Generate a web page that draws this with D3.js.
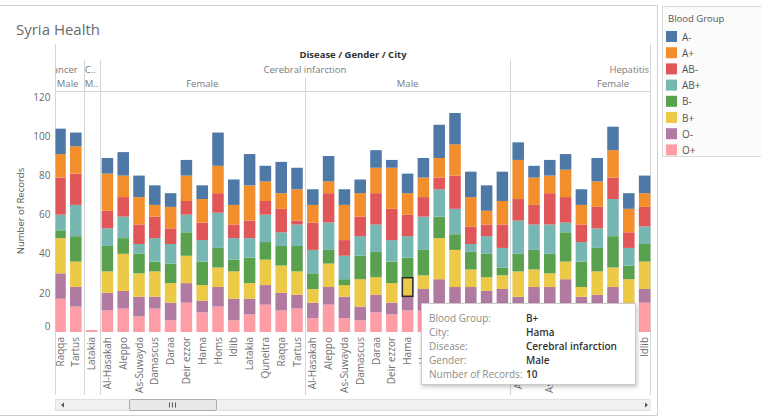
<!DOCTYPE html>
<html><head><meta charset="utf-8">
<script src="https://cdn.jsdelivr.net/npm/d3@7"></script>
<style>
body{margin:0;background:#fff;}
svg{display:block;font-family:"Open Sans","Noto Sans",sans-serif;}
</style></head><body>
<svg id="chart" width="761" height="417"></svg>
<script>
// ---------- data ----------
const bloodGroups = ["A-","A+","AB-","AB+","B-","B+","O-","O+"];
const groupColors = ["#4e79a7","#f28e2b","#e15759","#76b7b2","#59a14f","#edc948","#b07aa1","#ff9da7"];

const barDisease = ["Cancer","Cancer","C..",
  "Cerebral infarction","Cerebral infarction","Cerebral infarction","Cerebral infarction","Cerebral infarction","Cerebral infarction","Cerebral infarction","Cerebral infarction","Cerebral infarction","Cerebral infarction","Cerebral infarction","Cerebral infarction","Cerebral infarction",
  "Cerebral infarction","Cerebral infarction","Cerebral infarction","Cerebral infarction","Cerebral infarction","Cerebral infarction","Cerebral infarction","Cerebral infarction","Cerebral infarction","Cerebral infarction","Cerebral infarction","Cerebral infarction","Cerebral infarction",
  "Hepatitis","Hepatitis","Hepatitis","Hepatitis","Hepatitis","Hepatitis","Hepatitis","Hepatitis","Hepatitis"];
const barGender = ["Male","Male","M..",
  "Female","Female","Female","Female","Female","Female","Female","Female","Female","Female","Female","Female","Female",
  "Male","Male","Male","Male","Male","Male","Male","Male","Male","Male","Male","Male","Male",
  "Female","Female","Female","Female","Female","Female","Female","Female","Female"];
const barCity = ["Raqqa","Tartus","Latakia",
  "Al-Hasakah","Aleppo","As-Suwayda","Damascus","Daraa","Deir ezzor","Hama","Homs","Idlib","Latakia","Quneitra","Raqqa","Tartus",
  "Al-Hasakah","Aleppo","As-Suwayda","Damascus","Daraa","Deir ezzor","Hama","Homs","Idlib","Latakia","Quneitra","Raqqa","Tartus",
  "Al-Hasakah","Aleppo","As-Suwayda","Damascus","Daraa","Deir ezzor","Hama","Homs","Idlib"];

const valAminus  = [13,7,0, 8,12,11,10,7,8,7,17,13,16,8,16,11, 8,13,8,7,9,4,10,10,17,16,13,13,15, 9,6,8,8,8,12,12,8,9];
const valAplus   = [12,14,0, 19,11,14,6,11,13,12,14,10,18,10,8,16, 9,6,18,12,13,21,11,10,10,16,15,7,12, 20,14,9,14,10,13,14,12,7];
const valABminus = [19,16,0, 9,10,10,11,8,7,9,10,7,9,7,12,2, 14,15,8,10,16,16,11,10,6,17,9,6,12, 11,10,16,13,9,11,11,8,10];
const valABplus  = [8,16,0, 9,11,5,12,10,9,11,18,11,10,14,7,11, 12,14,12,10,14,11,11,17,14,13,4,9,10, 17,13,15,5,10,10,19,9,9];
const valBminus  = [4,13,0, 13,8,10,5,10,12,12,10,6,13,9,10,13, 8,7,3,12,13,11,10,13,11,8,9,12,4, 9,10,10,15,13,12,16,7,9];
const valBplus   = [18,13,0, 11,19,12,13,10,14,8,10,14,8,13,14,12, 7,12,6,14,9,10,10,7,21,19,9,7,7, 13,9,7,9,5,12,10,13,14];
const valOminus  = [13,10,0, 9,9,10,6,9,10,6,10,11,8,10,9,7, 8,9,11,7,9,6,7,11,15,10,11,10,10, 6,11,11,14,7,7,11,5,7];
const valOplus   = [17,13,1, 11,12,8,12,6,15,10,13,6,9,14,11,12, 7,14,7,6,10,9,11,11,12,13,12,11,12, 12,12,12,13,11,12,12,9,15];

const yTicks = [0,20,40,60,80,100,120];
const tooltipLabels = ["Blood Group:","City:","Disease:","Gender:","Number of Records:"];
const highlightBar = 22, highlightGroup = "B+";

// ---------- build table ----------
const seriesByGroup = {"A-":valAminus,"A+":valAplus,"AB-":valABminus,"AB+":valABplus,"B-":valBminus,"B+":valBplus,"O-":valOminus,"O+":valOplus};
const rows = barCity.map((c,i)=>{const r={idx:i}; bloodGroups.forEach(g=>r[g]=seriesByGroup[g][i]); return r;});
const stackKeys = bloodGroups.slice().reverse(); // O+ at bottom
const stacked = d3.stack().keys(stackKeys)(rows);
const color = d3.scaleOrdinal().domain(bloodGroups).range(groupColors);

const svg = d3.select("#chart");
const plotL = 55.5, plotR = 651, plotT = 91.5, base = 332;
const step = 15.8, x0 = 52.1;
const x = d3.scaleBand().domain(d3.range(barCity.length)).range([x0, x0+step*barCity.length]).paddingInner(0.27).paddingOuter(0.135);
const y = d3.scaleLinear().domain([0,123]).range([base, 91.5]);

const defs = svg.append("defs");
defs.append("clipPath").attr("id","plotclip").append("rect").attr("x",plotL).attr("y",40).attr("width",plotR-plotL).attr("height",360);
const sh = defs.append("filter").attr("id","shadow").attr("x","-10%").attr("y","-10%").attr("width","130%").attr("height","140%");
sh.append("feDropShadow").attr("dx",1).attr("dy",2).attr("stdDeviation",2).attr("flood-color","#000").attr("flood-opacity",0.22);

// frame
const frame = "#cfcfcf";
svg.append("line").attr("x1",0).attr("x2",657.5).attr("y1",5.5).attr("y2",5.5).attr("stroke",frame);
svg.append("line").attr("x1",657.5).attr("x2",657.5).attr("y1",5.5).attr("y2",415.5).attr("stroke",frame);
svg.append("line").attr("x1",0).attr("x2",657.5).attr("y1",415.5).attr("y2",415.5).attr("stroke",frame);

// title
svg.append("text").attr("x",16).attr("y",35).attr("font-size",15).attr("fill","#6a6a6a").text("Syria Health");

// header title
svg.append("text").attr("x",353).attr("y",58).attr("text-anchor","middle").attr("font-size",9.5).attr("font-weight",700).attr("fill","#333").text("Disease / Gender / City");

// pane structure
const lineC = "#d6d6d6";
svg.append("line").attr("x1",plotL).attr("x2",plotL).attr("y1",44).attr("y2",395).attr("stroke",lineC);
svg.append("line").attr("x1",650.5).attr("x2",650.5).attr("y1",44).attr("y2",395).attr("stroke",lineC);
svg.append("line").attr("x1",plotL).attr("x2",plotR).attr("y1",91.5).attr("y2",91.5).attr("stroke",lineC);

function runs(keyFn){
  const out=[]; let s=0;
  for(let i=1;i<=barCity.length;i++){
    if(i===barCity.length || keyFn(i)!==keyFn(s)){ out.push({start:s,end:i-1,key:keyFn(s)}); s=i; }
  }
  return out;
}
const edge = i => x0 + step*i;
const diseaseRuns = runs(i=>barDisease[i]);
const genderRuns = runs(i=>barDisease[i]+"|"+barGender[i]);
const hdr = svg.append("g").attr("clip-path","url(#plotclip)").attr("font-size",9.5).attr("fill","#7a7a7a");
diseaseRuns.forEach(r=>{ if(r.start>0) hdr.append("line").attr("x1",Math.round(edge(r.start))+0.5).attr("x2",Math.round(edge(r.start))+0.5).attr("y1",60).attr("y2",395).attr("stroke",lineC); });
genderRuns.forEach(r=>{ const e=Math.round(edge(r.start))+0.5; if(r.start>0 && barDisease[r.start]===barDisease[r.start-1]) hdr.append("line").attr("x1",e).attr("x2",e).attr("y1",78).attr("y2",395).attr("stroke",lineC); });

diseaseRuns.forEach(r=>{
  const l=edge(r.start), rr=edge(r.end+1);
  const t=hdr.append("text").attr("y",73).text(r.key);
  if(r.key==="Cancer") t.attr("x",rr-6).attr("text-anchor","end");
  else if(r.key==="Hepatitis") t.attr("x",plotR-2).attr("text-anchor","end");
  else if(r.key==="C..") t.attr("x",l+1);
  else t.attr("x",(l+rr)/2).attr("text-anchor","middle");
});
genderRuns.forEach(r=>{
  const l=edge(r.start), rr=edge(r.end+1);
  const t=hdr.append("text").attr("y",87).text(barGender[r.start]);
  if(barDisease[r.start]==="Cancer") t.attr("x",(plotL+rr)/2-2).attr("text-anchor","middle");
  else if(barGender[r.start]==="M..") t.attr("x",l+1);
  else if(barDisease[r.start]==="Hepatitis") t.attr("x",l+step*13/2).attr("text-anchor","middle");
  else t.attr("x",(l+rr)/2).attr("text-anchor","middle");
});

// bars
const bars = svg.append("g").attr("clip-path","url(#plotclip)");
bars.selectAll("g").data(stacked).join("g").attr("fill",d=>color(d.key))
  .selectAll("rect").data(d=>d).join("rect")
  .attr("x",d=>x(d.data.idx)).attr("width",x.bandwidth())
  .attr("y",d=>y(d[1])).attr("height",d=>y(d[0])-y(d[1]));

// highlight
const hs = stacked.find(s=>s.key===highlightGroup)[highlightBar];
bars.append("rect").attr("x",x(highlightBar)+0.5).attr("width",x.bandwidth()-1)
  .attr("y",y(hs[1])+0.5).attr("height",y(hs[0])-y(hs[1])-1)
  .attr("fill","none").attr("stroke","#2b2b2b").attr("stroke-width",1.5);

// y axis
const yAxis = svg.append("g").attr("transform",`translate(${plotL},0)`)
  .call(d3.axisLeft(y).tickValues(yTicks).tickSize(0).tickPadding(5));
yAxis.select(".domain").remove();
yAxis.selectAll("text").attr("font-size",10).attr("fill","#6a6a6a").attr("font-family","'Open Sans','Noto Sans',sans-serif")
  .attr("dy",d=>d===0?"-0.3em":"0.32em");
svg.append("text").attr("transform","translate(24,211) rotate(-90)").attr("text-anchor","middle")
  .attr("font-size",9.5).attr("fill","#555").text("Number of Records");

// x labels
const xl = svg.append("g").attr("clip-path","url(#plotclip)");
xl.selectAll("text").data(barCity).join("text")
  .attr("transform",(d,i)=>`translate(${x(i)+x.bandwidth()/2+3.5},337) rotate(-90)`)
  .attr("text-anchor","end").attr("font-size",10).attr("fill","#6f6f6f").text(d=>d);

// scrollbar
const sb = svg.append("g");
sb.append("rect").attr("x",plotL).attr("y",399.5).attr("width",plotR-plotL-1).attr("height",11).attr("fill","#f0f0f0").attr("stroke","#e0e0e0");
sb.append("rect").attr("x",129.5).attr("y",399.5).attr("width",87).attr("height",11).attr("rx",1.5).attr("fill","#e9e9e9").attr("stroke","#adadad");
[169.5,172.5,175.5].forEach(gx=>sb.append("line").attr("x1",gx).attr("x2",gx).attr("y1",402.5).attr("y2",407.5).attr("stroke","#555"));
sb.append("path").attr("d","M61,405 L64,402.5 L64,407.5 Z").attr("fill","#555");
sb.append("path").attr("d","M648,405 L645,402.5 L645,407.5 Z").attr("fill","#555");

// legend
const lg = svg.append("g");
lg.append("rect").attr("x",662.5).attr("y",6.5).attr("width",110).attr("height",150).attr("fill","#fbfbfb").attr("stroke","#dadada");
lg.append("text").attr("x",668).attr("y",22).attr("font-size",9.5).attr("fill","#555").text("Blood Group");
const li = lg.selectAll("g.item").data(bloodGroups).join("g").attr("class","item")
  .attr("transform",(d,i)=>`translate(666,${31+i*16.2})`);
li.append("rect").attr("width",11).attr("height",11).attr("fill",d=>color(d));
li.append("text").attr("x",16).attr("y",9.5).attr("font-size",10).attr("fill","#555").text(d=>d);

// tooltip
const tipValues = [highlightGroup, barCity[highlightBar], barDisease[highlightBar], barGender[highlightBar], String(seriesByGroup[highlightGroup][highlightBar])];
const tip = svg.append("g");
tip.append("rect").attr("x",421.5).attr("y",303.5).attr("width",214).attr("height",81).attr("fill","#fff").attr("stroke","#cacaca").attr("filter","url(#shadow)");
tooltipLabels.forEach((t,i)=>{
  tip.append("text").attr("x",429).attr("y",322+i*14).attr("font-size",10).attr("fill","#8c8c8c").text(t);
  tip.append("text").attr("x",526).attr("y",322+i*14).attr("font-size",10).attr("font-weight",600).attr("fill","#333").text(tipValues[i]);
});
</script>
</body></html>
